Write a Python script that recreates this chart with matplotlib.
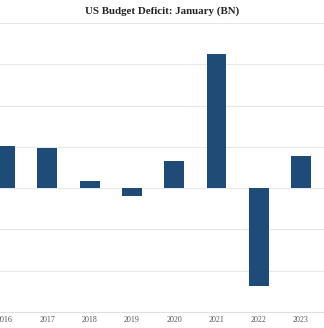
import matplotlib
matplotlib.use("Agg")
import matplotlib.pyplot as plt

years = ["2016", "2017", "2018", "2019", "2020", "2021", "2022", "2023"]
values = [51, 49, 9, -9, 33, 163, -119, 39]
title = "US Budget Deficit: January (BN)"

fig = plt.figure(figsize=(3.24, 3.28), dpi=100)
ax = fig.add_axes([0, 16/328, 1, (312-23)/328])
x = list(range(len(years)))
ax.bar(x, values, width=0.47, color="#1f4b78", zorder=3)
ax.set_xlim(-0.118, 7.543)
ax.set_ylim(-150, 200)
ax.set_yticks([-150, -100, -50, 0, 50, 100, 150, 200])
ax.yaxis.grid(True, color="#e8e8e8", linewidth=0.8, zorder=0)
ax.set_yticklabels([])
ax.tick_params(axis="y", length=0)
ax.set_xticks(x)
ax.set_xticklabels(years, fontfamily="Liberation Serif", fontsize=5.8, color="#555555")
ax.tick_params(axis="x", length=0, pad=3)
for s in ["top", "left", "right"]:
    ax.spines[s].set_visible(False)
ax.spines["bottom"].set_color("#e0e0e0")
ax.spines["bottom"].set_linewidth(0.8)
fig.text(0.5, 1 - 11/328, title, ha="center", va="center", fontfamily="Liberation Serif",
         fontweight="bold", fontsize=7.8, color="#222222")
fig.savefig("out.png", dpi=100)
